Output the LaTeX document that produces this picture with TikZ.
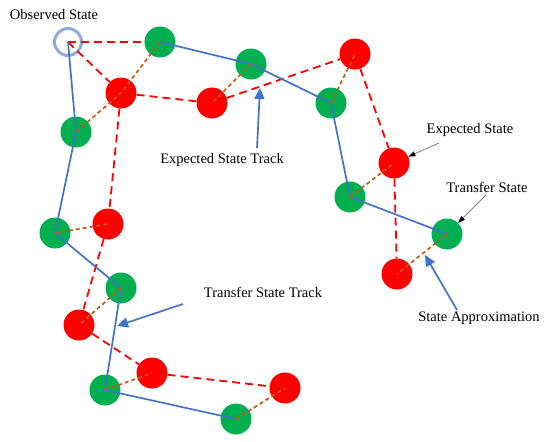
\documentclass[tikz,border=0pt]{standalone}
\usepackage{fontspec}
\setmainfont{Liberation Serif}
\usetikzlibrary{arrows.meta}

\definecolor{stategreen}{HTML}{00B050}
\definecolor{statered}{HTML}{FF0000}
\definecolor{trackblue}{HTML}{4472C4}
\definecolor{ringblue}{HTML}{8FAADC}
\definecolor{approxorange}{HTML}{C55A11}

\begin{document}
\begin{tikzpicture}[x=1pt,y=-1pt,
  transfer/.style={circle,fill=stategreen,minimum size=31pt,inner sep=0pt},
  expected/.style={circle,fill=statered,minimum size=31pt,inner sep=0pt},
  observed/.style={circle,draw=ringblue,line width=3pt,minimum size=27pt,inner sep=0pt},
  exptrack/.style={draw=statered,line width=1.8pt,dash pattern=on 8pt off 5pt},
  trftrack/.style={draw=trackblue,line width=1.7pt},
  approx/.style={draw=approxorange,line width=1.7pt,dash pattern=on 4pt off 3pt},
  txt/.style={font=\fontsize{14.5}{17}\selectfont,inner sep=0pt},
  callout/.style={draw=trackblue,line width=1.7pt,-{Triangle[length=11pt,width=10pt]}},
  pointer/.style={draw=gray,line width=0.8pt,-{Triangle[length=7pt,width=5pt,color=black]}}]
  \useasboundingbox (0,0) rectangle (550,442);
  % states
  \node[observed] (obs) at (68,42) {};
  \node[transfer] (g1) at (160,42) {};
  \node[transfer] (g2) at (251,64) {};
  \node[transfer] (g3) at (76,132) {};
  \node[transfer] (g4) at (331,103) {};
  \node[transfer] (g5) at (350,197) {};
  \node[transfer] (g6) at (447,234) {};
  \node[transfer] (g7) at (55,233) {};
  \node[transfer] (g8) at (121,288) {};
  \node[transfer] (g9) at (105,390) {};
  \node[transfer] (g10) at (236,419) {};
  \node[expected] (r1) at (121,93) {};
  \node[expected] (r2) at (212,103) {};
  \node[expected] (r3) at (355,54) {};
  \node[expected] (r4) at (394,163) {};
  \node[expected] (r5) at (397,274) {};
  \node[expected] (r6) at (108,224) {};
  \node[expected] (r7) at (79,325) {};
  \node[expected] (r8) at (152,373) {};
  \node[expected] (r9) at (285,388) {};
  % expected state track
  \draw[exptrack] (obs.center) -- (g1);
  \draw[exptrack] (obs.center) -- (r1);
  \draw[exptrack] (r1) -- (r2);
  \draw[exptrack] (r2) -- (r3);
  \draw[exptrack] (r3) -- (r4);
  \draw[exptrack] (r4) -- (r5);
  \draw[exptrack] (r1) -- (r6);
  \draw[exptrack] (r6) -- (r7);
  \draw[exptrack] (r7) -- (r8);
  \draw[exptrack] (r8) -- (r9);
  % transfer state track
  \draw[trftrack] (obs.center) -- (g3.center) -- (g7.center) -- (g8.center)
    -- (g9.center) -- (g10.center);
  \draw[trftrack] (g1.center) -- (g2.center) -- (g4.center) -- (g5.center)
    -- (g6.center);
  % state approximation
  \draw[approx] (g1.center) -- (r1.center) -- (g3.center);
  \draw[approx] (g2.center) -- (r2.center);
  \draw[approx] (g4.center) -- (r3.center);
  \draw[approx] (g5.center) -- (r4.center);
  \draw[approx] (g6.center) -- (r5.center);
  \draw[approx] (g7.center) -- (r6.center);
  \draw[approx] (g8.center) -- (r7.center);
  \draw[approx] (g9.center) -- (r8.center);
  \draw[approx] (g10.center) -- (r9.center);
  % labels
  \node[txt] (obsLbl) at (54,15) {Observed State};
  \node[txt] (estLbl) at (222,160) {Expected State Track};
  \node[txt] (tstLbl) at (263,292) {Transfer State Track};
  \node[txt] (esLbl) at (470,130) {Expected State};
  \node[txt] (tsLbl) at (487,187) {Transfer State};
  \node[txt] (saLbl) at (479,318) {State Approximation};
  % callouts
  \coordinate (estTail) at (257,148);
  \coordinate (estHead) at (260,88);
  \coordinate (tstTail) at (183,304);
  \coordinate (tstHead) at (117,326);
  \coordinate (saTail) at (457,310);
  \coordinate (saHead) at (425,255);
  \coordinate (esTail) at (439,143);
  \coordinate (tsTail) at (486,195);
  \draw[callout] (estTail) -- (estHead);
  \draw[callout] (tstTail) -- (tstHead);
  \draw[callout] (saTail) -- (saHead);
  \draw[pointer] (esTail) -- (r4);
  \draw[pointer] (tsTail) -- (g6);
\end{tikzpicture}
\end{document}
